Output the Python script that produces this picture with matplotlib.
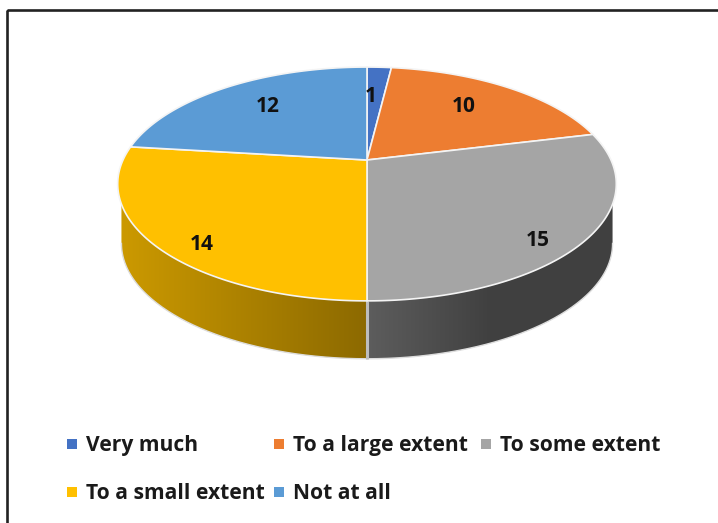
import numpy as np
import matplotlib
matplotlib.use("Agg")
import matplotlib.pyplot as plt
from matplotlib.patches import Polygon, Rectangle

plt.rcParams['font.family'] = ['Open Sans', 'DejaVu Sans']

categories = ["Very much", "To a large extent", "To some extent", "To a small extent", "Not at all"]
values = [1, 10, 15, 14, 12]
colors = ['#4472C4', '#ED7D31', '#A5A5A5', '#FFC000', '#5B9BD5']

# where things sit on the picture, in pixels
cx, cy = 367, 160
rx, ry = 244, 112
persp = 0.205
depth = 60
bottom_scale = 0.985
label_pos = [(371, 97), (464, 106), (538, 240), (202, 244), (268, 106)]
legend_pos = [(72, 444), (279, 444), (486, 444), (72, 492), (279, 492)]


def project(theta, scale=1.0, dy=0.0):
    # circle seen with a bit of perspective, theta clockwise from 12 o'clock
    u = np.sin(theta)
    v = np.cos(theta)
    d = 1 + persp * v
    return cx + scale * rx * u / d, cy + dy - scale * ry * v / d


def wall_shade(i, x):
    # the side walls get darker towards the right of the slice
    if i == 2:
        return np.interp(x, [370, 490], [0.56, 0.39])
    if i == 3:
        return np.interp(x, [120, 367], [0.80, 0.55])
    return 0.6


fig = plt.figure(figsize=(7.18, 5.23), dpi=100)
ax = fig.add_axes([0, 0, 1, 1])
ax.set_xlim(0, 718)
ax.set_ylim(523, 0)
ax.axis('off')

ax.add_patch(Rectangle((7, 10), 720, 530, fill=False, ec='#222222', lw=1.9))

edges = np.cumsum([0] + values) / sum(values) * 2 * np.pi

# front arc of the top face, the walls hang from it
th_all = np.linspace(0, 2 * np.pi, 1441)
xb_all, _ = project(th_all, bottom_scale, depth)
th_right = th_all[np.argmax(xb_all)]
th_left = th_all[np.argmin(xb_all)]
th_front = np.linspace(th_right - 0.4, th_left + 0.4, 600)
x_front, y_front = project(th_front)
order = np.argsort(x_front)

for i in range(len(values)):
    lo = max(edges[i], th_right)
    hi = min(edges[i + 1], th_left)
    if hi <= lo:
        continue
    th = np.linspace(lo, hi, 200)
    xb, yb = project(th, bottom_scale, depth)
    yt = np.interp(xb, x_front[order], y_front[order])
    clip = Polygon(np.c_[np.r_[xb, xb[::-1]], np.r_[yb, yt[::-1]]], transform=ax.transData)
    grid = np.linspace(xb.min(), xb.max(), 256)
    img = np.outer(wall_shade(i, grid), matplotlib.colors.to_rgb(colors[i]))[None, :, :]
    im = ax.imshow(img, extent=(xb.min(), xb.max(), yb.max() + 2, yt.min() - 2),
                   aspect='auto', zorder=2, interpolation='bilinear')
    im.set_clip_path(clip)
    ax.plot(xb, yb, color='#DDDDDD', lw=1.0, zorder=3)

ax.set_xlim(0, 718)
ax.set_ylim(523, 0)

# seam between the walls at the front
xs, ys = project(np.array([edges[3]]))
xb, yb = project(np.array([edges[3]]), bottom_scale, depth)
ax.plot([xs[0], xb[0]], [ys[0], yb[0]], color='#BDBDBD', lw=2.2, solid_capstyle='butt', zorder=3)

# top face
for i in range(len(values)):
    th = np.linspace(edges[i], edges[i + 1], 150)
    x, y = project(th)
    ax.fill(np.r_[cx, x], np.r_[cy, y], color=colors[i], ec='#F4F4F4', lw=1.2, zorder=4)

for v, (x, y) in zip(values, label_pos):
    ax.text(x, y, str(v), ha='center', va='center', fontsize=15, fontweight='bold',
            color='#111111', zorder=5)

for name, col, (x, y) in zip(categories, colors, legend_pos):
    ax.scatter([x], [y], marker='s', s=50, color=col, lw=0, zorder=5)
    ax.text(x + 14, y + 7, name, ha='left', va='baseline', fontsize=15.1, fontweight='bold',
            color='#1A1A1A', zorder=5)

fig.savefig('out.png', dpi=100)
